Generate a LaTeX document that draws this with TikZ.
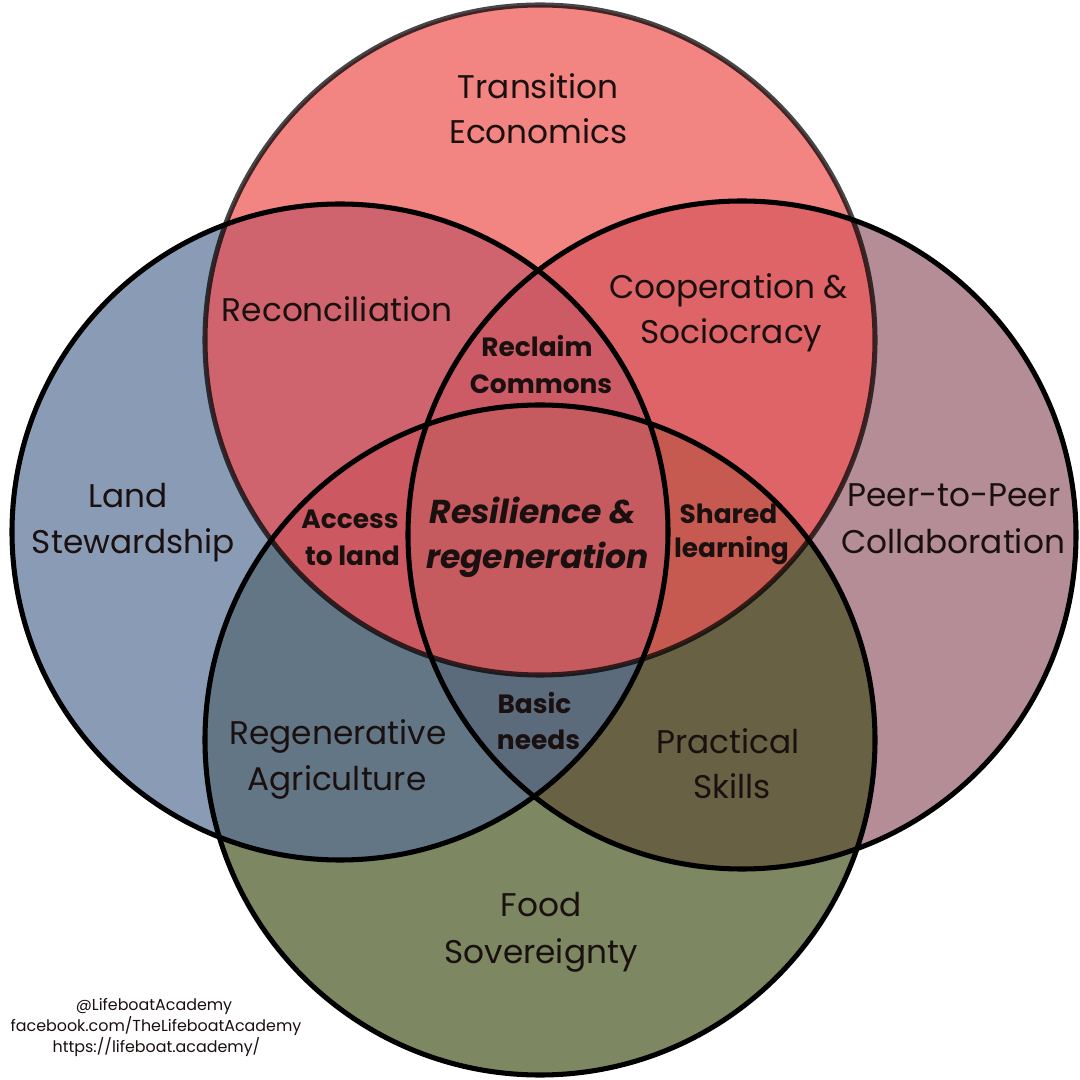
\documentclass[tikz,border=0pt]{standalone}
\usepackage{fontspec}
\setmainfont{Poppins}
\definecolor{cT}{HTML}{F28482}
\definecolor{cL}{HTML}{8A9BB5}
\definecolor{cR}{HTML}{B48D96}
\definecolor{cB}{HTML}{7D8762}
\definecolor{cTL}{HTML}{D0646E}
\definecolor{cTR}{HTML}{DF6468}
\definecolor{cLB}{HTML}{637685}
\definecolor{cRB}{HTML}{686143}
\definecolor{cTLR}{HTML}{CD5B65}
\definecolor{cTLB}{HTML}{CC5961}
\definecolor{cTRB}{HTML}{C65A50}
\definecolor{cLRB}{HTML}{5B6B7B}
\definecolor{cAll}{HTML}{C55A5F}
\definecolor{txt}{HTML}{1A1010}
\begin{document}
\begin{tikzpicture}[x=0.025cm,y=0.025cm,
  lbl/.style={inner sep=0pt,text=txt,font=\fontsize{23.3}{28}\selectfont,text height=0.7em,text depth=0pt},
  blbl/.style={inner sep=0pt,text=txt,font=\fontsize{18.8}{22}\selectfont\bfseries,text height=0.7em,text depth=0pt},
  clbl/.style={inner sep=0pt,text=txt,font=\fontsize{23.5}{28}\selectfont\bfseries\itshape,text height=0.7em,text depth=0pt},
  credit/.style={inner sep=0pt,text=txt,font=\fontsize{11.3}{14}\selectfont,text height=0.7em,text depth=0pt},
  ring/.style={line width=3.6pt,draw=black}]
\useasboundingbox (0,0) rectangle (1080,1080);
\fill[white] (0,0) rectangle (1080,1080);
\coordinate (T) at (540,740);
\coordinate (L) at (340,548);
\coordinate (R) at (742,545);
\coordinate (B) at (540,340);
% single circles
\fill[cT] (T) circle[radius=335];
\fill[cL] (L) circle[radius=328];
\fill[cR] (R) circle[radius=334];
\fill[cB] (B) circle[radius=335];
% pairs
\begin{scope}\clip (T) circle[radius=335]; \clip (L) circle[radius=328]; \fill[cTL] (0,0) rectangle (1080,1080);\end{scope}
\begin{scope}\clip (T) circle[radius=335]; \clip (R) circle[radius=334]; \fill[cTR] (0,0) rectangle (1080,1080);\end{scope}
\begin{scope}\clip (L) circle[radius=328]; \clip (B) circle[radius=335]; \fill[cLB] (0,0) rectangle (1080,1080);\end{scope}
\begin{scope}\clip (R) circle[radius=334]; \clip (B) circle[radius=335]; \fill[cRB] (0,0) rectangle (1080,1080);\end{scope}
% triples
\begin{scope}\clip (T) circle[radius=335]; \clip (L) circle[radius=328]; \clip (R) circle[radius=334]; \fill[cTLR] (0,0) rectangle (1080,1080);\end{scope}
\begin{scope}\clip (T) circle[radius=335]; \clip (L) circle[radius=328]; \clip (B) circle[radius=335]; \fill[cTLB] (0,0) rectangle (1080,1080);\end{scope}
\begin{scope}\clip (T) circle[radius=335]; \clip (R) circle[radius=334]; \clip (B) circle[radius=335]; \fill[cTRB] (0,0) rectangle (1080,1080);\end{scope}
\begin{scope}\clip (L) circle[radius=328]; \clip (R) circle[radius=334]; \clip (B) circle[radius=335]; \fill[cLRB] (0,0) rectangle (1080,1080);\end{scope}
% all four
\begin{scope}\clip (T) circle[radius=335]; \clip (L) circle[radius=328]; \clip (R) circle[radius=334]; \clip (B) circle[radius=335]; \fill[cAll] (0,0) rectangle (1080,1080);\end{scope}
% outlines
\draw[ring,draw opacity=0.72] (T) circle[radius=335];
\draw[ring] (L) circle[radius=328];
\draw[ring] (R) circle[radius=334];
\draw[ring] (B) circle[radius=335];
% labels
\node[lbl] (te1) at (538,986.5) {Transition};
\node[lbl] (te2) at (538.5,941.5) {Economics};
\node[lbl] (rec) at (337,763) {Reconciliation};
\node[lbl] (co1) at (728.5,786.5) {Cooperation \&};
\node[lbl] (co2) at (731.5,741.5) {Sociocracy};
\node[blbl] (rc1) at (537,728) {Reclaim};
\node[blbl] (rc2) at (541,691) {Commons};
\node[lbl] (la1) at (128,577) {Land};
\node[lbl] (la2) at (133.5,531.5) {Stewardship};
\node[blbl] (ac1) at (350,556) {Access};
\node[blbl] (ac2) at (352.5,519) {to land};
\node[clbl] (re1) at (533,561.5) {Resilience \&};
\node[clbl] (re2) at (537.5,516.5) {regeneration};
\node[blbl] (sh1) at (728.5,561) {Shared};
\node[blbl] (sh2) at (731.5,527) {learning};
\node[lbl] (pp1) at (954,578) {Peer-to-Peer};
\node[lbl] (pp2) at (953,531.5) {Collaboration};
\node[lbl] (ra1) at (338,340) {Regenerative};
\node[lbl] (ra2) at (337,294) {Agriculture};
\node[blbl] (bn1) at (534.5,371) {Basic};
\node[blbl] (bn2) at (538.5,335) {needs};
\node[lbl] (ps1) at (728,331) {Practical};
\node[lbl] (ps2) at (732,286) {Skills};
\node[lbl] (fs1) at (541,168) {Food};
\node[lbl] (fs2) at (541,121.5) {Sovereignty};
\node[credit] (cr1) at (154,74) {@LifeboatAcademy};
\node[credit] (cr2) at (156,53) {facebook.com/TheLifeboatAcademy};
\node[credit] (cr3) at (156.5,32) {https://lifeboat.academy/};
\end{tikzpicture}
\end{document}
